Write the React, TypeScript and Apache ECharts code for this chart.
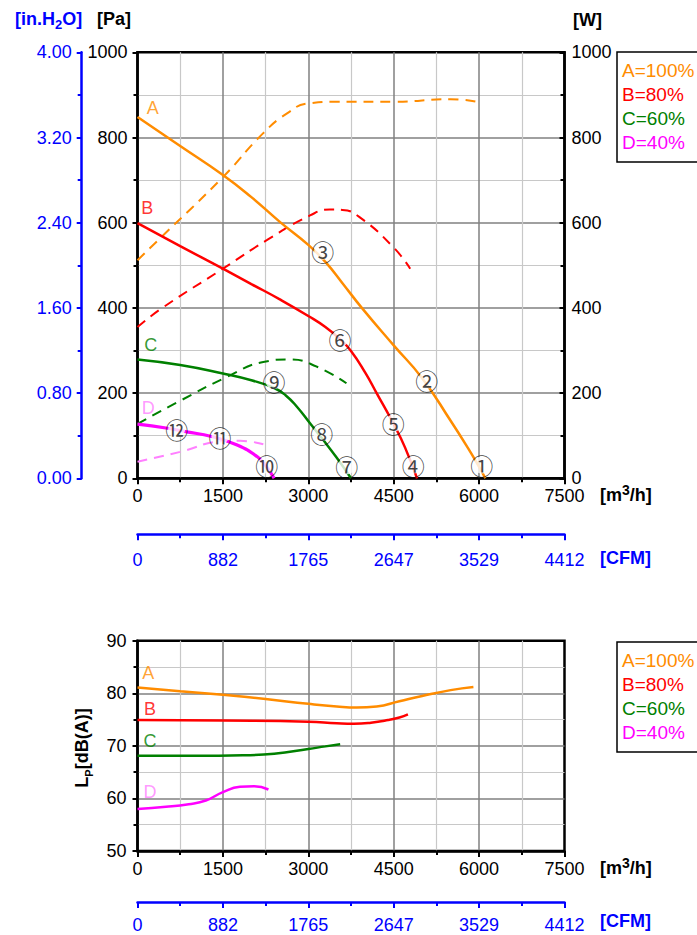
import React, { useEffect, useRef } from "react";
import * as echarts from "echarts";

// ---------- data ----------
const flowTicks = ["0", "1500", "3000", "4500", "6000", "7500"];
const cfmTicks = ["0", "882", "1765", "2647", "3529", "4412"];
const paTicks = ["0", "200", "400", "600", "800", "1000"];
const wTicks = ["0", "200", "400", "600", "800", "1000"];
const inH2OTicks = ["0.00", "0.80", "1.60", "2.40", "3.20", "4.00"];
const dbTicks = ["50", "60", "70", "80", "90"];

const legendNames = ["A=100%", "B=80%", "C=60%", "D=40%"];

// pressure curves [Pa] vs flow [m3/h]
const flowA = [0, 750, 1500, 2000, 2500, 3000, 3300, 3600, 3940, 4500, 5000, 5500, 5800, 6000, 6110];
const pressureA = [848, 780, 712, 660, 602, 548, 508, 458, 400, 312, 235, 135, 72, 27, 0];
const flowB = [0, 750, 1500, 2000, 2500, 3000, 3300, 3560, 3750, 4000, 4200, 4500, 4700, 4910];
const pressureB = [599, 545, 492, 456, 420, 381, 355, 326, 299, 248, 200, 127, 72, 0];
const flowC = [0, 750, 1500, 2000, 2400, 2600, 2800, 3030, 3250, 3500, 3750];
const pressureC = [279, 266, 246, 230, 212, 195, 168, 129, 92, 48, 0];
const flowD = [0, 500, 864, 1300, 1750, 2100, 2250, 2400];
const pressureD = [127, 118, 109, 98, 78, 51, 30, 0];

// power curves [W] vs flow [m3/h]
const flowPA = [0, 425, 1500, 2200, 2620, 3000, 3500, 4500, 5500, 5950];
const powerA = [512, 567, 707, 809, 856, 880, 884, 884, 890, 884];
const flowPB = [0, 425, 1500, 2270, 3030, 3380, 3600, 3900, 4490, 4790];
const powerB = [355, 399, 492, 559, 617, 631, 630, 613, 543, 492];
const flowPC = [0, 750, 1570, 2210, 2680, 3150, 3670];
const powerC = [128, 182, 238, 273, 279, 262, 223];
const flowPD = [0, 750, 1500, 1800, 2210];
const powerD = [39, 62, 87, 88, 80];

// sound pressure level [dB(A)] vs flow [m3/h]
const flowNA = [0, 750, 1500, 2250, 3000, 3500, 3850, 4200, 4600, 5000, 5500, 5900];
const dbA = [81.1, 80.4, 79.7, 78.9, 78.0, 77.5, 77.3, 77.5, 78.5, 79.5, 80.6, 81.2];
const flowNB = [0, 1500, 3000, 3500, 3800, 4100, 4400, 4600, 4750];
const dbB = [74.9, 74.8, 74.6, 74.3, 74.2, 74.4, 74.9, 75.4, 76.0];
const flowNC = [0, 1000, 1850, 2400, 3000, 3300, 3560];
const dbC = [68.1, 68.1, 68.2, 68.5, 69.4, 69.9, 70.3];
const flowND = [0, 500, 900, 1200, 1500, 1800, 2050, 2300];
const dbD = [58.0, 58.4, 58.9, 59.6, 61.2, 62.2, 62.3, 61.7];

// curve letters (annotations)
const letters = ["A", "B", "C", "D"];
const letterFlowTop = [267, 173, 232, 190];
const letterPaTop = [870, 635, 313, 166];
const letterFlowBottom = [190, 220, 220, 220];
const letterDbBottom = [83.8, 77.1, 71.0, 61.2];

// circled operating points (annotations)
const circleNums = ["①", "②", "③", "④", "⑤", "⑥", "⑦", "⑧", "⑨", "⑩", "⑪", "⑫"];
const circleFlow = [6046, 5080, 3253, 4845, 4494, 3557, 3674, 3235, 2398, 2269, 1449, 688];
const circlePa = [31, 230, 533, 31, 129, 328, 29, 107, 229, 31, 98, 115];

// ---------- styles ----------
const FONT = "Liberation Sans";
const ORANGE = "#ff8c00";
const RED = "#ff0000";
const GREEN = "#008000";
const MAGENTA = "#ff00ff";
const PINK = "#ff80ff";
const BLUE = "#0000ff";
const curveColors = [ORANGE, RED, GREEN, MAGENTA];
const letterColors = [ORANGE, RED, GREEN, PINK];
const powerColors = [ORANGE, RED, GREEN, PINK];

const fmt = (labels: string[], min: number, step: number) => (v: number) => {
  const i = Math.round((v - min) / step);
  return labels[i] ?? "";
};

const pairs = (xs: number[], ys: number[]) => xs.map((x, i) => [x, ys[i]]);

function xAxisCfg(gridIndex: number, labels: string[], color: string, offset: number, margin: number, grid: boolean) {
  return {
    type: "value",
    gridIndex,
    min: 0,
    max: 7500,
    interval: 1500,
    position: "bottom",
    offset,
    axisLine: { show: true, onZero: false, lineStyle: { color, width: 2.5 } },
    axisTick: { show: true, inside: false, length: 6, lineStyle: { color, width: 2 } },
    minorTick: { show: true, splitNumber: 2, length: 4, lineStyle: { color, width: 2 } },
    axisLabel: { fontFamily: FONT, fontSize: 18, color, margin, formatter: fmt(labels, 0, 1500) },
    splitLine: { show: grid, showMinLine: false, showMaxLine: false, lineStyle: { color: "#808080", width: 1.5 } },
    minorSplitLine: { show: grid, lineStyle: { color: "#c8c8c8", width: 1.2 } },
  };
}

function yAxisCfg(o: any) {
  const color = o.color || "#000";
  return {
    type: "value",
    gridIndex: o.gridIndex,
    min: o.min,
    max: o.max,
    interval: o.interval,
    position: o.position,
    offset: o.offset || 0,
    axisLine: { show: true, onZero: false, lineStyle: { color, width: 2.5 } },
    axisTick: { show: true, inside: !!o.inside, length: 5, lineStyle: { color, width: 2 } },
    minorTick: { show: true, splitNumber: 2, length: 4, lineStyle: { color, width: 2 } },
    axisLabel: { fontFamily: FONT, fontSize: 18, color, margin: o.margin, formatter: fmt(o.labels, o.min, o.interval) },
    splitLine: { show: !!o.grid, showMinLine: false, showMaxLine: false, lineStyle: { color: "#808080", width: 1.5 } },
    minorSplitLine: { show: !!o.grid, lineStyle: { color: "#c8c8c8", width: 1.2 } },
  };
}

function line(name: string, xi: number, yi: number, xs: number[], ys: number[], color: string, width: number, dashed: boolean) {
  return {
    type: "line",
    name,
    xAxisIndex: xi,
    yAxisIndex: yi,
    data: pairs(xs, ys),
    symbol: "none",
    showSymbol: false,
    smooth: 0.5,
    silent: true,
    itemStyle: { color },
    lineStyle: { color, width, type: dashed ? [10, 7] : "solid" },
    z: dashed ? 2 : 3,
  };
}

function legendCfg(top: number) {
  return {
    left: 617,
    top,
    orient: "vertical",
    selectedMode: false,
    data: legendNames.map((n, i) => ({ name: n, icon: "none", textStyle: { color: curveColors[i] } })),
    itemWidth: 0,
    itemHeight: 0,
    itemGap: 4,
    padding: [8, 40, 10, 0],
    borderColor: "#000",
    borderWidth: 1.5,
    backgroundColor: "#fff",
    textStyle: { fontFamily: FONT, fontSize: 19, lineHeight: 20 },
  };
}

function richText(x: number, y: number, text: string, rich: any, extra: any = {}) {
  return {
    type: "text",
    x,
    y,
    z: 10,
    ...extra,
    style: {
      text,
      rich,
      align: extra.align || "left",
      textAlign: extra.align || "left",
      verticalAlign: "middle",
      textVerticalAlign: "middle",
      fontFamily: FONT,
    },
  };
}

function tok(color: string, size: number, va?: string) {
  const t: any = { fontFamily: FONT, fontWeight: "bold", fontSize: size, fill: color, color, lineHeight: 24 };
  if (va) t.verticalAlign = va;
  return t;
}

export default function App() {
  const ref = useRef<HTMLDivElement>(null);

  useEffect(() => {
    if (!ref.current) return;
    const chart = echarts.init(ref.current, null, { renderer: "svg" });

    const series: any[] = [];
    const pFlows = [flowA, flowB, flowC, flowD];
    const pVals = [pressureA, pressureB, pressureC, pressureD];
    const wFlows = [flowPA, flowPB, flowPC, flowPD];
    const wVals = [powerA, powerB, powerC, powerD];
    const nFlows = [flowNA, flowNB, flowNC, flowND];
    const nVals = [dbA, dbB, dbC, dbD];

    for (let i = 0; i < 4; i++) {
      series.push(line(legendNames[i], 0, 1, wFlows[i], wVals[i], powerColors[i], 2, true));
      series.push(line(legendNames[i], 0, 0, pFlows[i], pVals[i], curveColors[i], i === 3 ? 3.2 : 2.5, false));
      series.push(line(legendNames[i], 2, 3, nFlows[i], nVals[i], curveColors[i], 2.5, false));
    }

    series.push({
      type: "scatter",
      name: "letters-top",
      xAxisIndex: 0,
      yAxisIndex: 0,
      silent: true,
      symbol: "circle",
      symbolSize: 1,
      itemStyle: { color: "rgba(0,0,0,0)" },
      z: 6,
      data: letters.map((l, i) => ({
        value: [letterFlowTop[i], letterPaTop[i]],
        label: { formatter: l, color: letterColors[i] },
      })),
      label: { show: true, position: "inside", fontFamily: FONT, fontSize: 18 },
    });
    series.push({
      type: "scatter",
      name: "letters-bottom",
      xAxisIndex: 2,
      yAxisIndex: 3,
      silent: true,
      symbol: "circle",
      symbolSize: 1,
      itemStyle: { color: "rgba(0,0,0,0)" },
      z: 6,
      data: letters.map((l, i) => ({
        value: [letterFlowBottom[i], letterDbBottom[i]],
        label: { formatter: l, color: letterColors[i] },
      })),
      label: { show: true, position: "inside", fontFamily: FONT, fontSize: 18 },
    });
    series.push({
      type: "scatter",
      name: "points",
      xAxisIndex: 0,
      yAxisIndex: 0,
      silent: true,
      symbol: "circle",
      symbolSize: 17,
      itemStyle: { color: "#fff" },
      z: 7,
      data: circleNums.map((c, i) => ({ value: [circleFlow[i], circlePa[i]], label: { formatter: c } })),
      label: { show: true, position: "inside", fontFamily: "Noto Sans CJK JP", fontSize: 23, color: "#111" },
    });

    const option: any = {
      animation: false,
      textStyle: { fontFamily: FONT },
      grid: [
        { left: 137.5, top: 52.3, width: 427, height: 426, show: true, borderColor: "#000", borderWidth: 2.5, backgroundColor: "transparent" },
        { left: 137.5, top: 640.7, width: 427, height: 210.3, show: true, borderColor: "#000", borderWidth: 2.5, backgroundColor: "transparent" },
      ],
      xAxis: [
        xAxisCfg(0, flowTicks, "#000", 0, 9, true),
        xAxisCfg(0, cfmTicks, BLUE, 56, 17, false),
        xAxisCfg(1, flowTicks, "#000", 0, 9, true),
        xAxisCfg(1, cfmTicks, BLUE, 51, 14, false),
      ],
      yAxis: [
        yAxisCfg({ gridIndex: 0, min: 0, max: 1000, interval: 200, position: "left", labels: paTicks, margin: 10, grid: true }),
        yAxisCfg({ gridIndex: 0, min: 0, max: 1000, interval: 200, position: "right", labels: wTicks, margin: 7, inside: true }),
        yAxisCfg({ gridIndex: 0, min: 0, max: 4, interval: 0.8, position: "left", offset: 55.8, labels: inH2OTicks, margin: 10, color: BLUE }),
        yAxisCfg({ gridIndex: 1, min: 50, max: 90, interval: 10, position: "left", labels: dbTicks, margin: 11, grid: true }),
      ],
      legend: [legendCfg(52), legendCfg(642)],
      graphic: [
        richText(15, 19, "{a|[in.H}{s|2}{a|O]}", { a: tok(BLUE, 18), s: tok(BLUE, 13, "bottom") }),
        richText(97, 19, "{a|[Pa]}", { a: tok("#000", 18) }),
        richText(573, 20, "{a|[W]}", { a: tok("#000", 18) }),
        richText(600, 495, "{a|[m}{s|3}{a|/h]}", { a: tok("#000", 18), s: tok("#000", 14, "top") }),
        richText(600, 558, "{a|[CFM]}", { a: tok(BLUE, 18) }),
        richText(600, 868, "{a|[m}{s|3}{a|/h]}", { a: tok("#000", 18), s: tok("#000", 14, "top") }),
        richText(600, 921, "{a|[CFM]}", { a: tok(BLUE, 18) }),
        richText(82, 748, "{a|L}{s|P}{a|[dB(A)]}", { a: tok("#000", 18), s: tok("#000", 11, "bottom") }, { rotation: Math.PI / 2, align: "center" }),
      ],
      series,
    };

    chart.setOption(option);
    return () => chart.dispose();
  }, []);

  return <div ref={ref} style={{ position: "absolute", left: 0, top: 0, width: 697, height: 935 }} />;
}
